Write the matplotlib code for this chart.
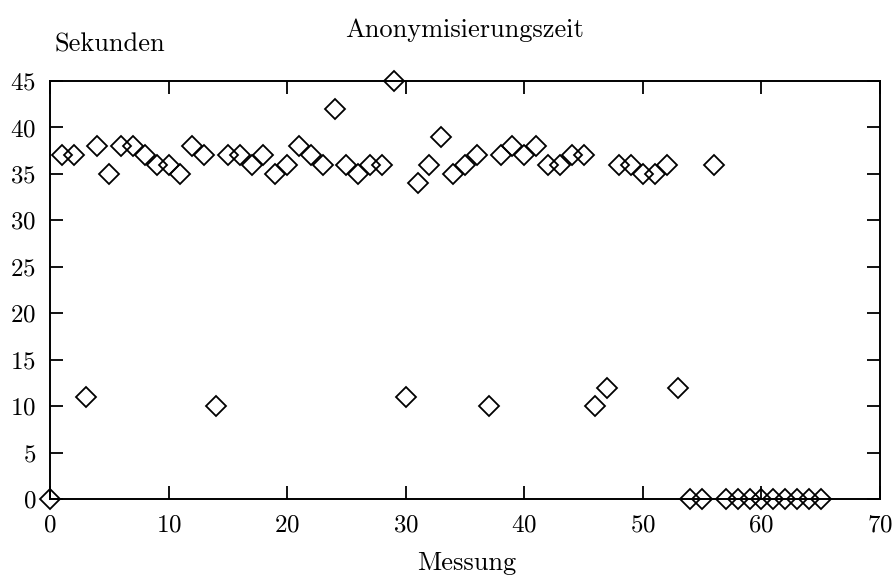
"""
Anonymisierungszeit pro Messung
"""
import matplotlib
matplotlib.use('Agg')
import matplotlib.pyplot as plt

# Messwerte (Sekunden) fuer Messung 0..65
messung = list(range(66))
sekunden = [0, 37, 37, 11, 38, 35, 38, 38, 37, 36,
            36, 35, 38, 37, 10, 37, 37, 36, 37, 35,
            36, 38, 37, 36, 42, 36, 35, 36, 36, 45,
            11, 34, 36, 39, 35, 36, 37, 10, 37, 38,
            37, 38, 36, 36, 37, 37, 10, 12, 36, 36,
            35, 35, 36, 12, 0, 0, 36, 0, 0, 0,
            0, 0, 0, 0, 0, 0]

x_ticks = [0, 10, 20, 30, 40, 50, 60, 70]
y_ticks = [0, 5, 10, 15, 20, 25, 30, 35, 40, 45]

plt.rcParams['font.family'] = ['cmr10', 'DejaVu Serif']
plt.rcParams['axes.formatter.use_mathtext'] = True

fig = plt.figure(figsize=(8.95, 5.8), dpi=100)
ax = fig.add_axes([50 / 895, 1 - 499 / 580, 830 / 895, 418 / 580])

ax.plot(messung, sekunden, linestyle='none', marker='D', markersize=10.5,
        markerfacecolor='none', markeredgecolor='black', markeredgewidth=1.3,
        clip_on=False, zorder=3)

ax.set_xlim(0, 70)
ax.set_ylim(0, 45)
ax.set_xticks(x_ticks)
ax.set_yticks(y_ticks)
ax.tick_params(direction='in', length=9.5, width=1.3, top=True, right=True,
               labelsize=18)
ax.tick_params(axis='x', pad=11)
ax.tick_params(axis='y', pad=10)
for s in ax.spines.values():
    s.set_linewidth(1.4)

fig.text(465 / 895, 1 - 30 / 580, 'Anonymisierungszeit', fontsize=19,
         ha='center', va='center')
fig.text(467 / 895, 1 - 563 / 580, 'Messung', fontsize=19,
         ha='center', va='center')
fig.text(55 / 895, 1 - 45 / 580, 'Sekunden', fontsize=19,
         ha='left', va='center')

fig.savefig('out.png', dpi=100)
